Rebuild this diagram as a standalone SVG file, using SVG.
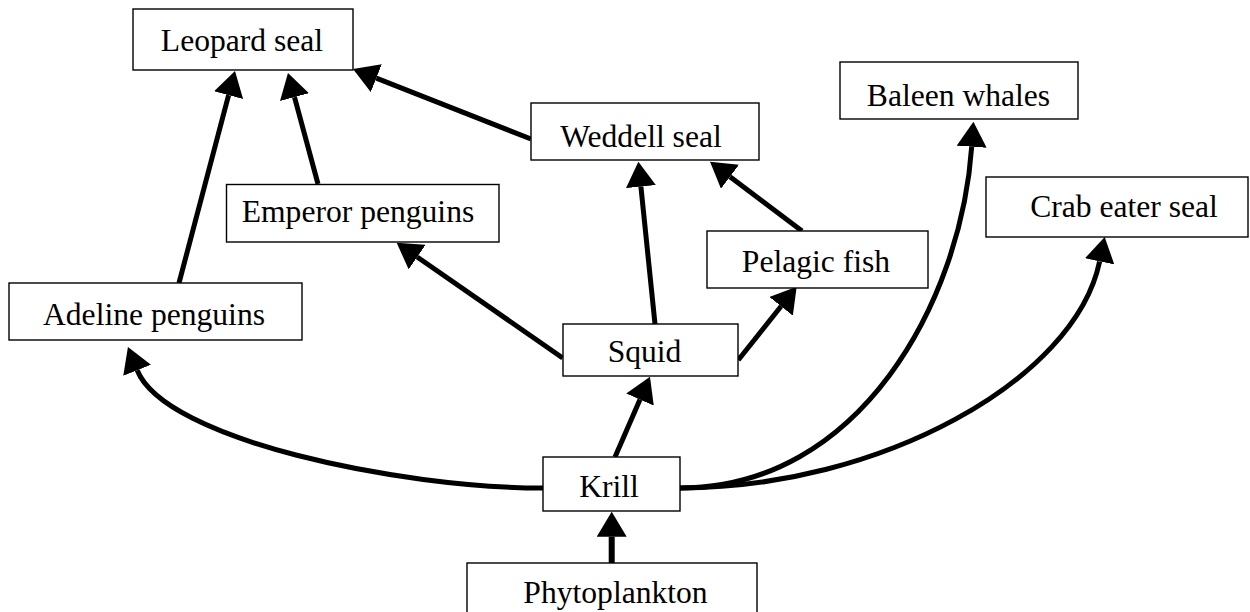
<svg xmlns="http://www.w3.org/2000/svg" width="1250" height="612" viewBox="0 0 1250 612">
<style>
  .box { fill: #ffffff; stroke: #000000; stroke-width: 1.4; }
  .lbl { font-family: "Liberation Serif", "Times New Roman", serif; font-size: 31.6px; fill: #000000; text-anchor: middle; }
  .edge { fill: none; stroke: #000000; stroke-width: 5; marker-end: url(#arrow); }
  .thick { stroke-width: 6; }
</style>
<defs>
  <marker id="arrow" viewBox="0 0 25 30" refX="0" refY="15" markerWidth="25" markerHeight="30" markerUnits="userSpaceOnUse" orient="auto">
    <path d="M0,0 L25,15 L0,30 Z" fill="#000000"/>
  </marker>
</defs>
<rect x="0" y="0" width="1250" height="612" fill="#ffffff"/>
<g id="connectors">
  <path class="edge" d="M179,283 L228.6,95.2"/>
  <path class="edge" d="M318,184 L294.5,97.1"/>
  <path class="edge" d="M531,139 L376.3,78.2"/>
  <path class="edge" d="M655,324 L640.9,186.6"/>
  <path class="edge" d="M802,231 L730,176.7"/>
  <path class="edge" d="M562.7,358 L417.2,257"/>
  <path class="edge" d="M738.3,360 L781.1,306.3"/>
  <path class="edge" d="M615,457 L640,399.6"/>
  <path class="edge thick" d="M611.7,563 L611.7,536.7"/>
  <path class="edge" d="M543,488 C400,488 165,440 137.2,370.3"/>
  <path class="edge" d="M680,488 C860,488 961,301.7 971.7,146.7"/>
  <path class="edge" d="M680,488 C880,488 1075,380 1099.6,261.4"/>
</g>
<g id="leopard-seal">
  <rect class="box" x="133" y="9" width="220" height="61"/>
  <text class="lbl" x="242" y="51">Leopard seal</text>
</g>
<g id="weddell-seal">
  <rect class="box" x="531" y="103" width="228" height="57"/>
  <text class="lbl" x="641" y="147">Weddell seal</text>
</g>
<g id="emperor-penguins">
  <rect class="box" x="226.5" y="184.5" width="272.5" height="57.5"/>
  <text class="lbl" x="358" y="222">Emperor penguins</text>
</g>
<g id="baleen-whales">
  <rect class="box" x="840" y="62" width="238" height="57"/>
  <text class="lbl" x="958.5" y="106">Baleen whales</text>
</g>
<g id="crab-eater-seal">
  <rect class="box" x="986" y="177" width="262" height="60"/>
  <text class="lbl" x="1124" y="217">Crab eater seal</text>
</g>
<g id="pelagic-fish">
  <rect class="box" x="707" y="231" width="221" height="57"/>
  <text class="lbl" x="816" y="272">Pelagic fish</text>
</g>
<g id="adeline-penguins">
  <rect class="box" x="9" y="283" width="293" height="57"/>
  <text class="lbl" x="154" y="325">Adeline penguins</text>
</g>
<g id="squid">
  <rect class="box" x="563" y="324" width="175" height="52"/>
  <text class="lbl" x="644.5" y="362">Squid</text>
</g>
<g id="krill">
  <rect class="box" x="543" y="457" width="137" height="54"/>
  <text class="lbl" x="609" y="497">Krill</text>
</g>
<g id="phytoplankton">
  <rect class="box" x="467" y="563" width="290" height="60"/>
  <text class="lbl" x="615.5" y="603">Phytoplankton</text>
</g>
</svg>
